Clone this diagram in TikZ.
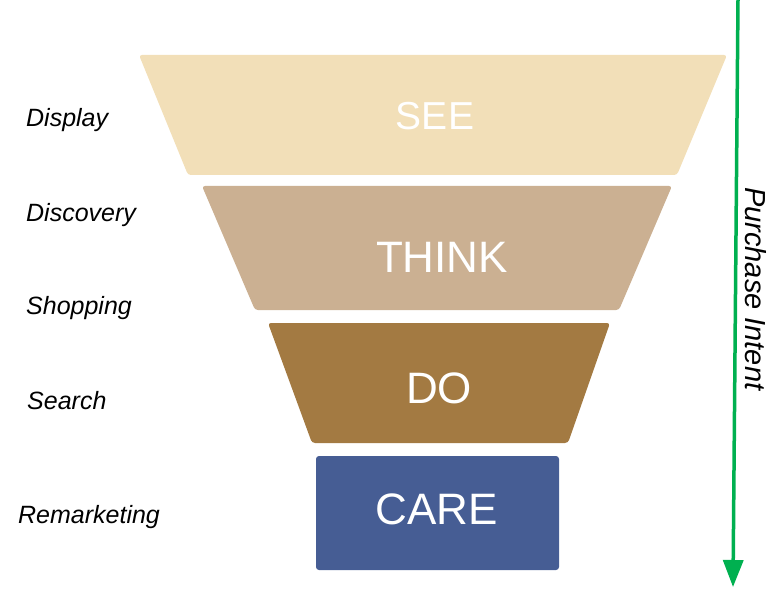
\documentclass[tikz,border=0pt]{standalone}
\usepackage{fontspec}
\setmainfont{Liberation Sans}
\usetikzlibrary{arrows.meta}
\definecolor{seecol}{HTML}{F2DFB8}
\definecolor{thinkcol}{HTML}{CBB092}
\definecolor{docol}{HTML}{A37A42}
\definecolor{carecol}{HTML}{465D94}
\definecolor{intentcol}{HTML}{00B050}
\tikzset{stage/.style={rounded corners=3pt},
  stagetext/.style={text=white,anchor=base,inner sep=0pt,font=\fontsize{44}{44}\selectfont},
  channel/.style={anchor=base west,inner sep=0pt,font=\itshape\fontsize{25}{25}\selectfont},
  intentline/.style={intentcol,line width=3.5pt,-{Triangle[width=20pt,length=27pt]}}}

\begin{document}
\begin{tikzpicture}[x=1pt,y=-1pt]
      \useasboundingbox (0,0) rectangle (777,599);
      \fill[seecol,stage] (139,55) -- (727,55) -- (677,175) -- (188,175) -- cycle;
      \fill[thinkcol,stage] (202,186) -- (672,186) -- (619,310) -- (255,310) -- cycle;
      \fill[docol,stage] (268,323) -- (610,323) -- (568,443) -- (312,443) -- cycle;
      \fill[carecol,stage] (316,456) rectangle (559,570);
      \node[stagetext,font=\fontsize{39}{39}\selectfont] at (435,130) (see) {SEE};
      \node[stagetext] at (442,272) (think) {THINK};
      \node[stagetext] at (439,403) (do) {DO};
      \node[stagetext] at (437,524) (care) {CARE};

      \node[channel] at (26,127) (display) {Display};
      \node[channel] at (26,222) (discovery) {Discovery};
      \node[channel] at (26,314) (shopping) {Shopping};
      \node[channel] at (27,409) (search) {Search};
      \node[channel] at (18,523) (remarketing) {Remarketing};

      \coordinate (top) at (738,0);
      \coordinate (bottom) at (733,587);
      \draw[intentline] (top) -- (bottom);
      \node[rotate=-90,anchor=base west,inner sep=0pt,font=\itshape\fontsize{29}{29}\selectfont] at (745,187) (intent) {Purchase Intent};
    \end{tikzpicture}
\end{document}
